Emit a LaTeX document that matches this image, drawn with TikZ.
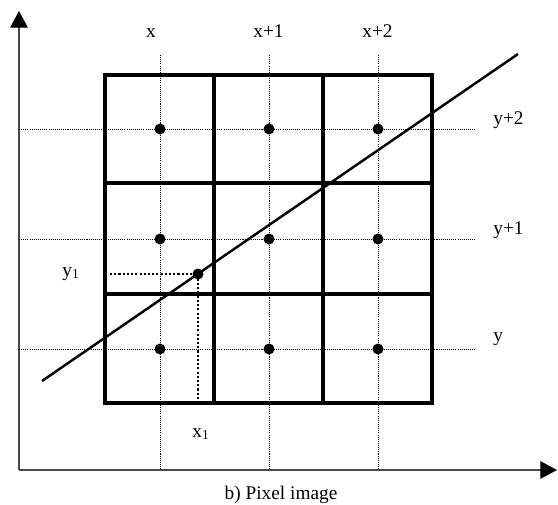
\documentclass[tikz,border=0pt]{standalone}
\usepackage{fontspec}
\setmainfont{Liberation Serif}
\usetikzlibrary{arrows.meta}
\definecolor{axisgray}{HTML}{4A4A4A}

\begin{document}
\begin{tikzpicture}[
  x=0.02cm,
  y=-0.02cm,
  every node/.style={font=\fontsize{11}{13}\selectfont, inner sep=0pt},
  axis/.style={axisgray, line width=0.75pt, -{Triangle[length=9.5pt, width=10pt, color=black]}},
  cell/.style={black, line width=1.8pt},
  guide/.style={black, line width=0.5pt, dash pattern=on 0.6pt off 0.6pt},
  proj/.style={black, line width=1.2pt, dash pattern=on 1.2pt off 1.2pt},
  ray/.style={black, line width=1.4pt},
  pixdot/.style={circle, fill=black, minimum size=0.22cm}
]
  % ---- page frame, in pixels of the original figure ----
  \useasboundingbox (0,0) rectangle (558,504);

  % ---- axes ----
  \coordinate (origin) at (19,470);
  \coordinate (ytip) at (19,11);
  \coordinate (xtip) at (557,470);
  \draw[axis] (origin) -- (ytip);
  \draw[axis] (origin) -- (xtip);

  % ---- dotted guides through the pixel centres ----
  \foreach \gx in {160,269,378}
    \draw[guide] (\gx,55) -- (\gx,470);
  \foreach \gy in {129,239,349}
    \draw[guide] (19,\gy) -- (476,\gy);

  % ---- pixel cells ----
  \draw[cell] (105,75) rectangle (432,403);
  \draw[cell] (214,75) -- (214,403);
  \draw[cell] (323,75) -- (323,403);
  \draw[cell] (105,183) -- (432,183);
  \draw[cell] (105,294) -- (432,294);

  % ---- pixel centres ----
  \foreach \gx/\i in {160/0,269/1,378/2}
    \foreach \gy/\j in {349/0,239/1,129/2}
      \node[pixdot] (pix\i\j) at (\gx,\gy) {};

  % ---- the line and the sample point on it ----
  \coordinate (rayA) at (42,381);
  \coordinate (rayB) at (518,54);
  \draw[ray] (rayA) -- (rayB);
  \node[pixdot] (sample) at (198,274) {};
  \coordinate (sampleY) at (110,274);
  \coordinate (sampleX) at (198,403);
  \draw[proj] (sampleY) -- (sample.center) -- (sampleX);

  % ---- labels ----
  \node[anchor=base] (labx0) at (151,37) {x};
  \node[anchor=base] (labx1) at (268.5,37) {x+1};
  \node[anchor=base] (labx2) at (377.5,37) {x+2};
  \node[anchor=base west] (laby2) at (493,124) {y+2};
  \node[anchor=base west] (laby1) at (493,234) {y+1};
  \node[anchor=base west] (laby0) at (493,341) {y};
  \node[anchor=base west] (labysub) at (62,276) {y\textsubscript{1}};
  \node[anchor=base west] (labxsub) at (192,437) {x\textsubscript{1}};
  \node[anchor=base] (caption) at (281,499) {b) Pixel image};
\end{tikzpicture}
\end{document}
